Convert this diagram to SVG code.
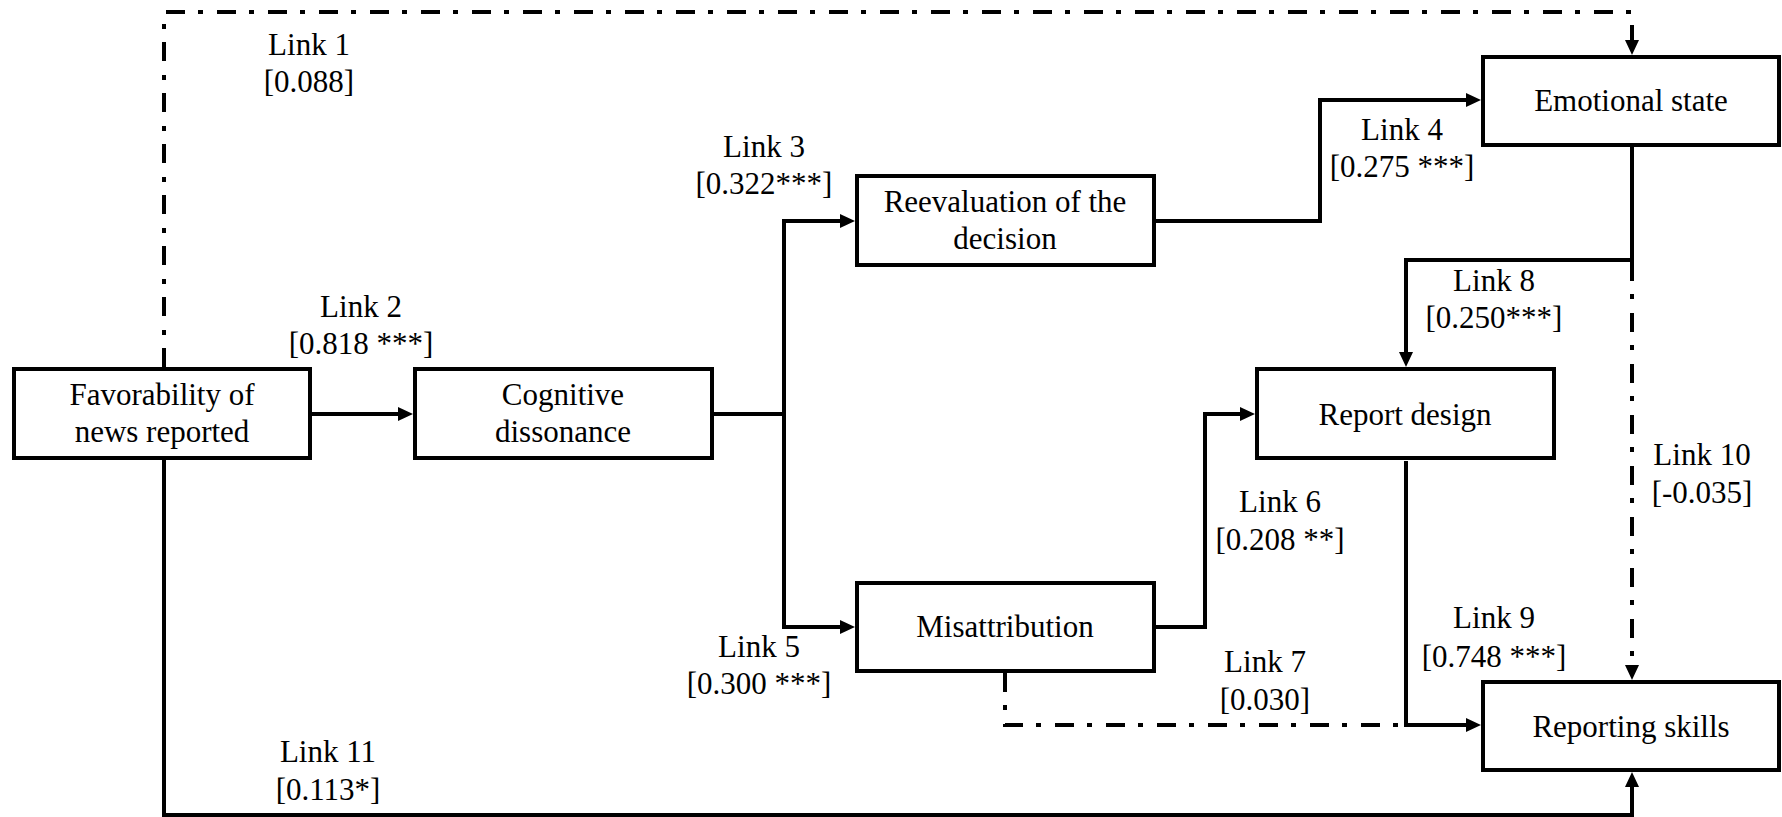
<svg xmlns="http://www.w3.org/2000/svg" width="1782" height="817" viewBox="0 0 1782 817">
<style>
.box{fill:#fff;stroke:#000;stroke-width:4}
.t{font-family:'Liberation Serif',serif;font-size:31px;fill:#000;text-anchor:middle}
.ln{fill:none;stroke:#000;stroke-width:4}
.dd{fill:none;stroke:#000;stroke-width:4;stroke-dasharray:19 13 5 14}
</style>
<defs>
<marker id="ah" viewBox="0 0 15 14" refX="0" refY="7" markerWidth="15" markerHeight="14" markerUnits="userSpaceOnUse" orient="auto">
<path d="M0,0 L15,7 L0,14 z" fill="#000"/>
</marker>
</defs>
<rect width="1782" height="817" fill="#fff"/>
<g id="connectors">
<path id="link1" class="dd" d="M164,367 V12 H1632 V40" marker-end="url(#ah)"/>
<path id="link2" class="ln" d="M312,414 H398" marker-end="url(#ah)"/>
<path id="link3" class="ln" d="M714,414 H784 V221 H840" marker-end="url(#ah)"/>
<path id="link5" class="ln" d="M784,414 V627 H840" marker-end="url(#ah)"/>
<path id="link4" class="ln" d="M1156,221 H1320 V100 H1466" marker-end="url(#ah)"/>
<path id="link8" class="ln" d="M1632,147 V260 H1406 V352" marker-end="url(#ah)"/>
<path id="link10" class="dd" d="M1632,262 V665" marker-end="url(#ah)"/>
<path id="link6" class="ln" d="M1156,627 H1205 V414 H1240" marker-end="url(#ah)"/>
<path id="link7" class="dd" d="M1005,673 V725 H1406"/>
<path id="link9" class="ln" d="M1406,461 V725 H1466" marker-end="url(#ah)"/>
<path id="link11" class="ln" d="M164,460 V815 H1632 V787" marker-end="url(#ah)"/>
</g>
<g id="labels" font-family="Liberation Serif, serif">
<text class="t" x="309" y="55">Link 1</text><text class="t" x="309" y="92">[0.088]</text>
<text class="t" x="361" y="317">Link 2</text><text class="t" x="361" y="354">[0.818 ***]</text>
<text class="t" x="764" y="157">Link 3</text><text class="t" x="764" y="194">[0.322***]</text>
<text class="t" x="1402" y="140">Link 4</text><text class="t" x="1402" y="177">[0.275 ***]</text>
<text class="t" x="759" y="657">Link 5</text><text class="t" x="759" y="694">[0.300 ***]</text>
<text class="t" x="1280" y="512">Link 6</text><text class="t" x="1280" y="550">[0.208 **]</text>
<text class="t" x="1265" y="672">Link 7</text><text class="t" x="1265" y="710">[0.030]</text>
<text class="t" x="1494" y="291">Link 8</text><text class="t" x="1494" y="328">[0.250***]</text>
<text class="t" x="1494" y="628">Link 9</text><text class="t" x="1494" y="667">[0.748 ***]</text>
<text class="t" x="1702" y="465">Link 10</text><text class="t" x="1702" y="503">[-0.035]</text>
<text class="t" x="328" y="762">Link 11</text><text class="t" x="328" y="800">[0.113*]</text>
</g>
<g id="favorability">
<rect class="box" x="14" y="369" width="296" height="89"/>
<text class="t" x="162" y="405">Favorability of</text>
<text class="t" x="162" y="442">news reported</text>
</g>
<g id="cognitive">
<rect class="box" x="415" y="369" width="297" height="89"/>
<text class="t" x="563" y="405">Cognitive</text>
<text class="t" x="563" y="442">dissonance</text>
</g>
<g id="reevaluation">
<rect class="box" x="857" y="176" width="297" height="89"/>
<text class="t" x="1005" y="212">Reevaluation of the</text>
<text class="t" x="1005" y="249">decision</text>
</g>
<g id="emotional">
<rect class="box" x="1483" y="57" width="296" height="88"/>
<text class="t" x="1631" y="111">Emotional state</text>
</g>
<g id="reportdesign">
<rect class="box" x="1257" y="369" width="297" height="89"/>
<text class="t" x="1405" y="425">Report design</text>
</g>
<g id="misattribution">
<rect class="box" x="857" y="583" width="297" height="88"/>
<text class="t" x="1005" y="637">Misattribution</text>
</g>
<g id="reportingskills">
<rect class="box" x="1483" y="682" width="296" height="88"/>
<text class="t" x="1631" y="737">Reporting skills</text>
</g>
</svg>
